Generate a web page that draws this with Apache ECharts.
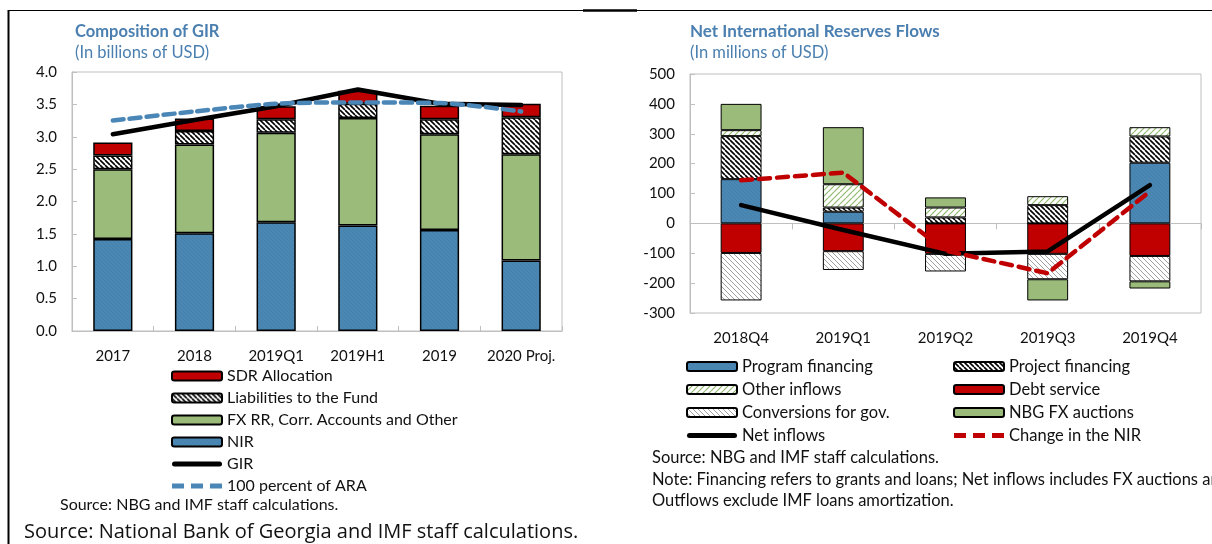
<!DOCTYPE html>
<html>
<head>
<meta charset="utf-8">
<script src="https://cdn.jsdelivr.net/npm/echarts@6/dist/echarts.min.js"></script>
<style>
  html, body { margin: 0; padding: 0; background: #fff; }
  #chart { width: 1212px; height: 544px; }
</style>
</head>
<body>
<div id="chart"></div>
<script>
// ---- Composition of GIR (billions of USD) ----
const girCategories = ['2017', '2018', '2019Q1', '2019H1', '2019', '2020 Proj.'];
const nirLevel   = [1.42, 1.51, 1.68, 1.63, 1.56, 1.09];
const fxRrOther  = [1.08, 1.37, 1.38, 1.66, 1.48, 1.64];
const fundLiab   = [0.21, 0.21, 0.21, 0.22, 0.23, 0.57];
const sdrAlloc   = [0.20, 0.19, 0.20, 0.20, 0.21, 0.21];
const girTotal   = [3.04, 3.26, 3.47, 3.73, 3.51, 3.49];
const araLevel   = [3.25, 3.39, 3.51, 3.53, 3.52, 3.39];
const girTicks   = { min: 0, max: 4, interval: 0.5 };

// ---- Net International Reserves Flows (millions of USD) ----
const flowQuarters  = ['2018Q4', '2019Q1', '2019Q2', '2019Q3', '2019Q4'];
const programFin    = [148, 39, 0, 0, 203];
const projectFin    = [144, 14, 20, 61, 88];
const otherInflows  = [20, 78, 33, 30, 31];
const debtService   = [-99, -93, -102, -102, -109];
const conversions   = [-159, -63, -59, -85, -85];
const fxAuctions    = [88, 191, 34, -71, -24];
const netInflows    = [61, -22, -102, -94, 128];
const nirChange     = [144, 170, -91, -167, 107];
const flowTicks     = { min: -300, max: 500, interval: 100 };

const FONT = 'Lato';
const TITLE_BLUE = '#4a7fb0';
const BAR_BLUE = '#4a87b3';
const BAR_GREEN = '#9bbb7b';
const BAR_RED = '#c00000';
const AXIS_GREY = '#bfbfbf';

// diagonal hatch fill built on a small tile
function hatch(bg, fg, size, lw, dir) {
  const c = document.createElement('canvas');
  c.width = c.height = size;
  const g = c.getContext('2d');
  g.fillStyle = bg;
  g.fillRect(0, 0, size, size);
  g.strokeStyle = fg;
  g.lineWidth = lw;
  g.beginPath();
  for (let k = -size; k <= size; k += size) {
    if (dir === 'down') { g.moveTo(k, 0); g.lineTo(k + size, size); }
    else { g.moveTo(k, size); g.lineTo(k + size, 0); }
  }
  g.stroke();
  return { image: c, repeat: 'repeat' };
}

const blueFill  = hatch(BAR_BLUE, '#4680ad', 4, 1, 'down');
const blackFill = hatch('#ffffff', '#000000', 5, 1.6, 'down');
const greenFill = hatch('#ffffff', '#8fb86b', 6, 1.2, 'up');
const greyFill  = hatch('#ffffff', '#a0a0a0', 5, 1, 'down');

// legend glyphs for the line series: a solid bar and a three-dash bar
const SOLID_ICON  = 'path://M2.5,0H47.5A2.5,2.5,0,0,1,47.5,5H2.5A2.5,2.5,0,0,1,2.5,0Z';
const DASHED_ICON = 'path://M0,0H12V5H0Z M19,0H31V5H19Z M38,0H50V5H38Z';

const txt = { fontFamily: FONT, color: '#111', fontSize: 14 };

function valueAxis(gridIndex, t, fmt) {
  return {
    type: 'value', gridIndex, min: t.min, max: t.max, interval: t.interval,
    axisLine: { show: true, lineStyle: { color: AXIS_GREY } },
    axisTick: { show: true, inside: true, length: 5, lineStyle: { color: AXIS_GREY } },
    splitLine: { show: false },
    axisLabel: { ...txt, fontSize: 15, margin: 15, formatter: fmt }
  };
}

const barBase = { type: 'bar', barGap: '0%' };
const lineBase = { type: 'line', symbol: 'none' };

const legendBase = { orient: 'vertical', itemWidth: 50, itemHeight: 9, itemGap: 6 };

const option = {
  animation: false,
  backgroundColor: '#fff',
  textStyle: { fontFamily: FONT },
  grid: [
    { left: 72, top: 72, width: 490, height: 259, show: true, borderColor: AXIS_GREY, borderWidth: 1 },
    { left: 690, top: 74, width: 511, height: 239, show: true, borderColor: AXIS_GREY, borderWidth: 1 }
  ],
  xAxis: [
    {
      type: 'category', gridIndex: 0, data: girCategories,
      axisLine: { show: true, lineStyle: { color: AXIS_GREY } },
      axisTick: { show: true, inside: true, length: 5, lineStyle: { color: AXIS_GREY } },
      axisLabel: { ...txt, fontSize: 15, margin: 18, interval: 0 }
    },
    {
      type: 'category', gridIndex: 1, data: flowQuarters, position: 'bottom',
      axisLine: { show: false, onZero: false },
      axisTick: { show: false },
      axisLabel: { ...txt, fontSize: 15, margin: 18, interval: 0 }
    },
    {
      type: 'category', gridIndex: 1, data: flowQuarters,
      axisLine: { show: true, onZero: true, lineStyle: { color: AXIS_GREY } },
      axisTick: { show: true, inside: true, length: 6, lineStyle: { color: AXIS_GREY } },
      axisLabel: { show: false }
    }
  ],
  yAxis: [
    valueAxis(0, girTicks, v => v.toFixed(1)),
    valueAxis(1, flowTicks, v => String(v))
  ],
  legend: [
    {
      ...legendBase, left: 166, top: 363,
      textStyle: { ...txt, fontSize: 16, lineHeight: 15 },
      data: ['SDR Allocation', 'Liabilities to the Fund', 'FX RR, Corr. Accounts and Other', 'NIR',
        { name: 'GIR', icon: SOLID_ICON }, { name: '100 percent of ARA', icon: DASHED_ICON }]
    },
    {
      ...legendBase, left: 681, top: 353,
      textStyle: { ...txt, fontSize: 16.5, lineHeight: 15 },
      data: ['Program financing', 'Other inflows', 'Conversions for gov.', { name: 'Net inflows', icon: SOLID_ICON }]
    },
    {
      ...legendBase, left: 948, top: 353,
      textStyle: { ...txt, fontSize: 16.5, lineHeight: 15 },
      data: ['Project financing', 'Debt service', 'NBG FX auctions', { name: 'Change in the NIR', icon: DASHED_ICON }]
    }
  ],
  series: [
    // left panel: stacked reserve components
    { ...barBase, name: 'NIR', xAxisIndex: 0, yAxisIndex: 0, stack: 'gir', barWidth: '48%', data: nirLevel,
      itemStyle: { color: blueFill, borderColor: '#000', borderWidth: 1.5 } },
    { ...barBase, name: 'FX RR, Corr. Accounts and Other', xAxisIndex: 0, yAxisIndex: 0, stack: 'gir', data: fxRrOther,
      itemStyle: { color: BAR_GREEN, borderColor: '#000', borderWidth: 1.5 } },
    { ...barBase, name: 'Liabilities to the Fund', xAxisIndex: 0, yAxisIndex: 0, stack: 'gir', data: fundLiab,
      itemStyle: { color: blackFill, borderColor: '#000', borderWidth: 1.5 } },
    { ...barBase, name: 'SDR Allocation', xAxisIndex: 0, yAxisIndex: 0, stack: 'gir', data: sdrAlloc,
      itemStyle: { color: BAR_RED, borderColor: '#000', borderWidth: 1.5 } },
    { ...lineBase, name: 'GIR', xAxisIndex: 0, yAxisIndex: 0, data: girTotal, z: 5,
      lineStyle: { color: '#000', width: 4.5, cap: 'round' }, itemStyle: { color: '#000' } },
    { ...lineBase, name: '100 percent of ARA', xAxisIndex: 0, yAxisIndex: 0, data: araLevel, z: 6,
      smooth: 0.3,
      lineStyle: { color: '#4a86b6', width: 4.5, type: [11, 6], cap: 'round' }, itemStyle: { color: '#4a86b6' } },

    // right panel: inflows stack upward, outflows downward
    { ...barBase, name: 'Program financing', xAxisIndex: 1, yAxisIndex: 1, stack: 'flow', barWidth: '40%', data: programFin,
      itemStyle: { color: blueFill, borderColor: '#000', borderWidth: 1 } },
    { ...barBase, name: 'Project financing', xAxisIndex: 1, yAxisIndex: 1, stack: 'flow', data: projectFin,
      itemStyle: { color: blackFill, borderColor: '#000', borderWidth: 1 } },
    { ...barBase, name: 'Other inflows', xAxisIndex: 1, yAxisIndex: 1, stack: 'flow', data: otherInflows,
      itemStyle: { color: greenFill, borderColor: '#000', borderWidth: 1 } },
    { ...barBase, name: 'Debt service', xAxisIndex: 1, yAxisIndex: 1, stack: 'flow', data: debtService,
      itemStyle: { color: BAR_RED, borderColor: '#000', borderWidth: 1 } },
    { ...barBase, name: 'Conversions for gov.', xAxisIndex: 1, yAxisIndex: 1, stack: 'flow', data: conversions,
      itemStyle: { color: greyFill, borderColor: '#000', borderWidth: 1 } },
    { ...barBase, name: 'NBG FX auctions', xAxisIndex: 1, yAxisIndex: 1, stack: 'flow', data: fxAuctions,
      itemStyle: { color: BAR_GREEN, borderColor: '#000', borderWidth: 1 } },
    { ...lineBase, name: 'Net inflows', xAxisIndex: 1, yAxisIndex: 1, data: netInflows, z: 5,
      lineStyle: { color: '#000', width: 4.5, cap: 'round' }, itemStyle: { color: '#000' } },
    { ...lineBase, name: 'Change in the NIR', xAxisIndex: 1, yAxisIndex: 1, data: nirChange, z: 6,
      lineStyle: { color: BAR_RED, width: 4.5, type: [11, 7], cap: 'round' }, itemStyle: { color: BAR_RED } }
  ],
  graphic: [
    // frame
    { type: 'line', shape: { x1: 8, y1: 10.5, x2: 1212, y2: 10.5 }, style: { stroke: '#000', lineWidth: 1.2 } },
    { type: 'line', shape: { x1: 583, y1: 10.5, x2: 637, y2: 10.5 }, style: { stroke: '#000', lineWidth: 2.5 } },
    { type: 'line', shape: { x1: 8.5, y1: 10, x2: 8.5, y2: 544 }, style: { stroke: '#000', lineWidth: 2 } },
    // titles
    { type: 'text', left: 75, top: 23, style: { text: 'Composition of GIR', font: `bold 16.5px ${FONT}`, fill: TITLE_BLUE } },
    { type: 'text', left: 75, top: 44, style: { text: '(In billions of USD)', font: `16.5px ${FONT}`, fill: TITLE_BLUE } },
    { type: 'text', left: 690, top: 23, style: { text: 'Net International Reserves Flows', font: `bold 17px ${FONT}`, fill: TITLE_BLUE } },
    { type: 'text', left: 690, top: 44, style: { text: '(In millions of USD)', font: `16.5px ${FONT}`, fill: TITLE_BLUE } },
    // sources and notes
    { type: 'text', left: 60, top: 497, style: { text: 'Source: NBG and IMF staff calculations.', font: `16px ${FONT}`, fill: '#111' } },
    { type: 'text', left: 652, top: 449, style: { text: 'Source: NBG and IMF staff calculations.', font: `16.5px ${FONT}`, fill: '#111' } },
    { type: 'text', left: 652, top: 471, style: { text: 'Note: Financing refers to grants and loans; Net inflows includes FX auctions and', font: `16.5px ${FONT}`, fill: '#111' } },
    { type: 'text', left: 652, top: 492, style: { text: 'Outflows exclude IMF loans amortization.', font: `16.5px ${FONT}`, fill: '#111' } },
    { type: 'text', left: 24, top: 522, style: { text: 'Source: National Bank of Georgia and IMF staff calculations.', font: `20px 'Open Sans'`, fill: '#111' } }
  ]
};

const chart = echarts.init(document.getElementById('chart'), null, { renderer: 'canvas' });
chart.setOption(option);
</script>
</body>
</html>
